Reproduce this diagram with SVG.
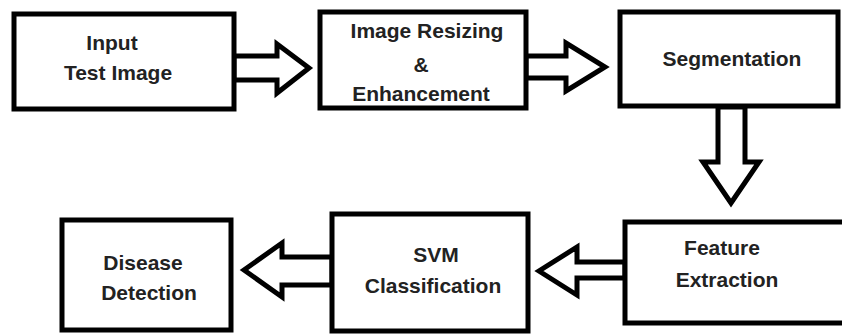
<svg xmlns="http://www.w3.org/2000/svg" width="842" height="336" viewBox="0 0 842 336">
<style>
.box{fill:#fff;stroke:#000;stroke-width:5}
.arr{fill:#fff;stroke:#000;stroke-width:5;stroke-linejoin:miter;stroke-miterlimit:10}
text{font-family:"Liberation Sans",Arial,sans-serif;font-weight:bold;font-size:21px;fill:#222;text-anchor:middle}
</style>
<rect width="842" height="336" fill="#fff"/>
<g id="connectors">
<polygon class="arr" points="234,56 277,56 277,44 309,68 277,93 277,80 234,80"/>
<polygon class="arr" points="526,56 566,56 566,43 605,67 566,91 566,78 526,78"/>
<polygon class="arr" points="718,107 718,162 703,162 731,203 759,162 745,162 745,107"/>
<polygon class="arr" points="625,262 577,262 577,247 539,271 577,295 577,278 625,278"/>
<polygon class="arr" points="332,257 282,257 282,243 244,270 282,297 282,285 332,285"/>
</g>
<g id="input">
<rect class="box" x="14" y="14" width="220" height="95"/>
<text x="112" y="50">Input</text>
<text x="118" y="80">Test Image</text>
</g>
<g id="resize">
<rect class="box" x="320" y="12" width="206" height="96"/>
<text x="427" y="38">Image Resizing</text>
<text x="421" y="72">&amp;</text>
<text x="421" y="101">Enhancement</text>
</g>
<g id="segmentation">
<rect class="box" x="620" y="12" width="218" height="94"/>
<text x="732" y="66">Segmentation</text>
</g>
<g id="feature">
<rect class="box" x="625" y="222" width="230" height="101"/>
<text x="722" y="255">Feature</text>
<text x="727" y="287">Extraction</text>
</g>
<g id="svm">
<rect class="box" x="332" y="214" width="196" height="117"/>
<text x="436" y="262">SVM</text>
<text x="433" y="293">Classification</text>
</g>
<g id="disease">
<rect class="box" x="62" y="220" width="169" height="110"/>
<text x="143" y="270">Disease</text>
<text x="149" y="300">Detection</text>
</g>
</svg>
